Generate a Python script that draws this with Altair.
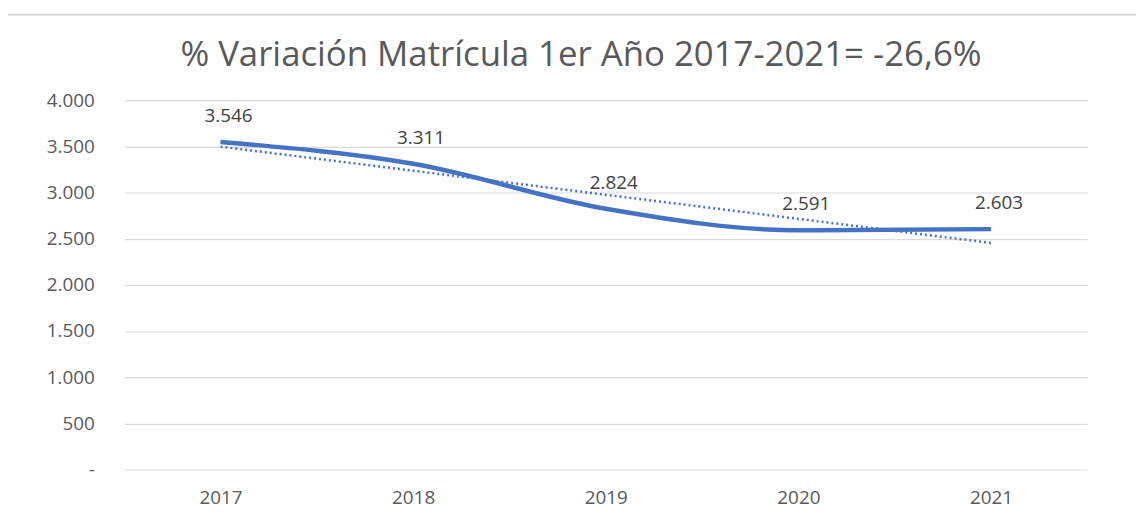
import altair as alt
import pandas as pd

years = [2017, 2018, 2019, 2020, 2021]
matricula = [3546, 3311, 2824, 2591, 2603]
y_ticks = [0, 500, 1000, 1500, 2000, 2500, 3000, 3500, 4000]
title_text = "% Variación Matrícula 1er Año 2017-2021= -26,6%"

df = pd.DataFrame({"year": years, "value": matricula})

FONT = "Open Sans"
BLUE = "#4472C4"

x_enc = alt.X(
    "year:Q",
    scale=alt.Scale(domain=[2016.5, 2021.5], nice=False, zero=False),
    axis=alt.Axis(values=years, format="d", title=None, grid=False, ticks=False,
                  domain=False, labelFontSize=19, labelColor="#595959",
                  labelFont=FONT, labelPadding=19),
)
y_enc = alt.Y(
    "value:Q",
    scale=alt.Scale(domain=[0, 4000], nice=False),
    axis=alt.Axis(values=y_ticks, title=None, ticks=False, domain=False,
                  grid=True, gridColor="#d9d9d9", gridWidth=1.2,
                  labelFontSize=19, labelColor="#595959", labelFont=FONT,
                  labelPadding=30,
                  labelExpr="datum.value == 0 ? '-' : replace(format(datum.value, ','), ',', '.')"),
)

base = alt.Chart(df)

frame = alt.Chart(pd.DataFrame({"k": [0]})).mark_rect(
    fill=None, stroke="#d9d9d9", strokeWidth=2
).encode(x=alt.value(-118), y=alt.value(-86), x2=alt.value(1200), y2=alt.value(600))

line = base.mark_line(color=BLUE, strokeWidth=4.5, interpolate="monotone").encode(x=x_enc, y=y_enc)

trend = base.transform_regression("year", "value", method="linear").mark_line(
    color=BLUE, strokeWidth=2.5, strokeDash=[2, 3]
).encode(x="year:Q", y="value:Q")

labels = base.transform_calculate(
    label="replace(format(datum.value, ','), ',', '.')"
).mark_text(dy=-26, dx=8, fontSize=19, font=FONT, color="#404040").encode(
    x="year:Q", y="value:Q", text="label:N"
)

chart = alt.layer(frame, trend, line, labels).properties(
    width=970,
    height=372,
    title=alt.TitleParams(title_text, anchor="middle", dx=-25, offset=-60,
                          fontSize=35, font=FONT, fontWeight="normal", color="#595959"),
    padding={"left": 117, "top": 91, "right": 49, "bottom": 40},
    autosize=alt.AutoSizeParams(type="none"),
).configure_view(stroke=None)

chart.save("out.html", embed_options={"renderer": "svg", "actions": False})
